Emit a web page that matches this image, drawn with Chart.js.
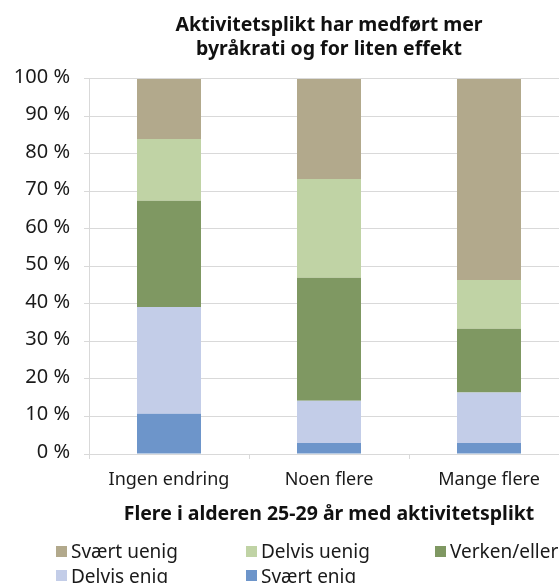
<!DOCTYPE html>
<html><head><meta charset="utf-8">
<script src="https://cdn.jsdelivr.net/npm/chart.js@4/dist/chart.umd.min.js"></script>
<style>
html,body{margin:0;padding:0;overflow:hidden;background:#fff;width:559px;height:583px;}
#wrap{position:relative;width:600px;height:583px;}
#c{position:absolute;left:0;top:0;}
.lg{position:absolute;font:19px "Noto Sans",sans-serif;color:#1a1a1a;white-space:nowrap;display:flex;align-items:center;height:24px;}
.lg span.b{display:inline-block;width:11px;height:11px;margin-right:4px;}
</style></head>
<body>
<div id="wrap"><canvas id="c" width="600" height="583"></canvas></div>
<script>
const categories = ['Ingen endring', 'Noen flere', 'Mange flere'];
const svaertEnig  = [10.7, 2.9, 2.9];
const delvisEnig  = [28.5, 11.3, 13.5];
const verkenEller = [28.3, 32.8, 17.0];
const delvisUenig = [16.5, 26.3, 13.0];
const svaertUenig = [16.0, 26.7, 53.6];
const yTicks = [0, 10, 20, 30, 40, 50, 60, 70, 80, 90, 100];
const chartTitle = ['Aktivitetsplikt har medført mer', 'byråkrati og for liten effekt'];
const xTitle = 'Flere i alderen 25-29 år med aktivitetsplikt';

const FONT = '"Noto Sans", sans-serif';
const GRID = '#D9D9D9';

const datasets = [
  {label: 'Svært enig',   data: svaertEnig,  backgroundColor: '#6D95CA'},
  {label: 'Delvis enig',  data: delvisEnig,  backgroundColor: '#C3CDE8'},
  {label: 'Verken/eller', data: verkenEller, backgroundColor: '#7F9862'},
  {label: 'Delvis uenig', data: delvisUenig, backgroundColor: '#C0D3A5'},
  {label: 'Svært uenig',  data: svaertUenig, backgroundColor: '#B2A98C'}
].map(d => Object.assign(d, {categoryPercentage: 1, barPercentage: 0.4, borderWidth: 0}));

const chart = new Chart(document.getElementById('c'), {
  type: 'bar',
  data: {labels: categories, datasets},
  options: {
    responsive: false,
    animation: false,
    devicePixelRatio: 1,
    layout: {padding: {left: 0, right: 31, top: 0, bottom: 56.5}},
    plugins: {
      legend: {display: false},
      tooltip: {enabled: false},
      title: {
        display: true, fullSize: false, text: chartTitle, color: '#111',
        font: {family: FONT, size: 19.5, weight: 'bold', lineHeight: 1.23},
        padding: {top: 13, bottom: 18}
      }
    },
    scales: {
      x: {
        stacked: true,
        grid: {display: true, drawOnChartArea: false, drawTicks: true, tickLength: 5, color: GRID, offset: true},
        border: {display: true, color: GRID, width: 1},
        ticks: {color: '#1a1a1a', font: {family: FONT, size: 18}, padding: 10, maxRotation: 0},
        title: {display: true, text: xTitle, color: '#111', font: {family: FONT, size: 19.5, weight: 'bold'}, padding: {top: 2.5, bottom: 0}}
      },
      y: {
        stacked: true, min: 0, max: 100,
        afterBuildTicks: s => { s.ticks = yTicks.map(v => ({value: v})); },
        afterFit: s => { s.width = 89; },
        grid: {color: GRID, lineWidth: 1, drawTicks: true, tickLength: 5},
        border: {display: true, color: GRID, width: 1},
        ticks: {color: '#1a1a1a', font: {family: FONT, size: 20}, padding: 14, labelOffset: -2, callback: v => v + ' %'}
      }
    }
  }
});

// HTML legend built from the chart's datasets
const legendOrder = ['Svært uenig', 'Delvis uenig', 'Verken/eller', 'Delvis enig', 'Svært enig'];
const legendLeft = [56, 246, 435];
const legendTop = [539, 563.5];
legendOrder.forEach((name, i) => {
  const ds = chart.data.datasets.find(d => d.label === name);
  const el = document.createElement('div');
  el.className = 'lg';
  el.style.left = legendLeft[i % 3] + 'px';
  el.style.top = legendTop[Math.floor(i / 3)] + 'px';
  const b = document.createElement('span');
  b.className = 'b';
  b.style.background = ds.backgroundColor;
  el.appendChild(b);
  el.appendChild(document.createTextNode(name));
  document.getElementById('wrap').appendChild(el);
});
</script>
</body></html>
